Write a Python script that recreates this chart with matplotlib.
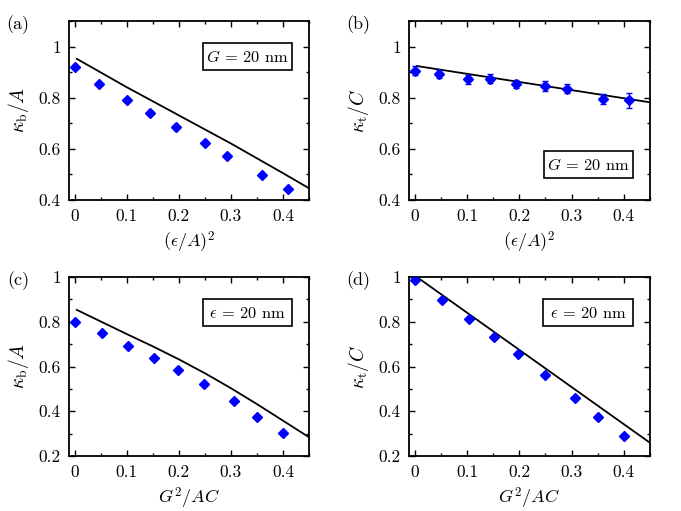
import matplotlib
matplotlib.use("Agg")
import matplotlib.pyplot as plt
from matplotlib.ticker import MultipleLocator, FuncFormatter
from matplotlib.patches import Rectangle

plt.rcParams['font.family'] = 'cmr10'
plt.rcParams['mathtext.fontset'] = 'cm'
plt.rcParams['axes.formatter.use_mathtext'] = True

# ---- data ----
x_eps = [0.0, 0.047, 0.101, 0.144, 0.194, 0.25, 0.292, 0.36, 0.41]
kb_eps = [0.919, 0.853, 0.791, 0.739, 0.684, 0.622, 0.574, 0.498, 0.442]
kt_eps = [0.906, 0.893, 0.872, 0.874, 0.854, 0.847, 0.836, 0.795, 0.790]
kt_eps_err = [0.017, 0.014, 0.017, 0.018, 0.017, 0.020, 0.018, 0.018, 0.029]

line_x_a = [0.004, 0.1, 0.2, 0.3, 0.4, 0.45]
line_y_a = [0.952, 0.841, 0.731, 0.621, 0.505, 0.446]
line_x_b = [0.004, 0.45]
line_y_b = [0.924, 0.782]

x_G = [0.0, 0.052, 0.103, 0.152, 0.198, 0.249, 0.306, 0.351, 0.401]
kb_G = [0.800, 0.748, 0.692, 0.638, 0.584, 0.522, 0.444, 0.376, 0.301]
kt_G = [0.985, 0.899, 0.811, 0.733, 0.656, 0.561, 0.459, 0.376, 0.289]

line_x_c = [0.004, 0.1, 0.15, 0.2, 0.25, 0.3, 0.35, 0.4, 0.45]
line_y_c = [0.853, 0.745, 0.690, 0.632, 0.570, 0.503, 0.432, 0.358, 0.284]
line_x_d = [0.004, 0.45]
line_y_d = [1.0, 0.259]

panel_labels = ['(a)', '(b)', '(c)', '(d)']
xlabels = [r'$(\epsilon/A)^2$', r'$(\epsilon/A)^2$', r'$G^2/AC$', r'$G^2/AC$']
ylabels = [r'$\kappa_{\rm b}/A$', r'$\kappa_{\rm t}/C$', r'$\kappa_{\rm b}/A$', r'$\kappa_{\rm t}/C$']
box_texts = [r'$G$ = 20 nm', r'$G$ = 20 nm', r'$\epsilon$ = 20 nm', r'$\epsilon$ = 20 nm']

W, H = 681, 511
fig = plt.figure(figsize=(W / 100, H / 100), dpi=100)

def add_ax(l, t, r, b):
    return fig.add_axes([l / W, 1 - b / H, (r - l) / W, (b - t) / H])

axes = [add_ax(69, 21, 309, 200), add_ax(409, 21, 650, 200),
        add_ax(69, 277, 309, 456), add_ax(409, 277, 650, 456)]

blue = '#0000ff'
fmt = FuncFormatter(lambda v, p: '%g' % round(v, 2))

for i, ax in enumerate(axes):
    ax.set_xlim(-0.011, 0.45)
    if i < 2:
        ax.set_ylim(0.4, 1.1)
    else:
        ax.set_ylim(0.2, 1.0)
    ax.xaxis.set_major_locator(MultipleLocator(0.1))
    ax.xaxis.set_minor_locator(MultipleLocator(0.05))
    ax.yaxis.set_major_locator(MultipleLocator(0.2))
    ax.yaxis.set_minor_locator(MultipleLocator(0.1))
    ax.xaxis.set_major_formatter(fmt)
    ax.yaxis.set_major_formatter(fmt)
    ax.tick_params(which='both', direction='in', top=True, right=True, labelsize=12.5, width=1.0, pad=6)
    ax.tick_params(which='major', length=4.5)
    ax.tick_params(which='minor', length=2.5)
    for s in ax.spines.values():
        s.set_linewidth(1.3)
    ax.set_xlabel(xlabels[i], fontsize=13, labelpad=4)
    ax.set_ylabel(ylabels[i], fontsize=14, labelpad=5)

axes[0].plot(line_x_a, line_y_a, color='black', lw=1.3, zorder=3)
axes[0].plot(x_eps, kb_eps, 'D', color=blue, ms=5, mec=blue, zorder=4)

axes[1].plot(line_x_b, line_y_b, color='black', lw=1.3, zorder=3)
axes[1].errorbar(x_eps, kt_eps, yerr=kt_eps_err, fmt='D', color=blue, ms=5,
                 ecolor=blue, elinewidth=1.0, capsize=2, capthick=1.0, zorder=4)

axes[2].plot(line_x_c, line_y_c, color='black', lw=1.3, zorder=3)
axes[2].plot(x_G, kb_G, 'D', color=blue, ms=5, mec=blue, zorder=4)

axes[3].plot(line_x_d, line_y_d, color='black', lw=1.3, zorder=3)
axes[3].plot(x_G, kt_G, 'D', color=blue, ms=5, mec=blue, zorder=4)

box_geom = [(0.557, 0.728, 0.371, 0.150), (0.560, 0.125, 0.369, 0.150),
            (0.557, 0.728, 0.371, 0.150), (0.557, 0.728, 0.371, 0.150)]
for i, ax in enumerate(axes):
    x0, y0, w, h = box_geom[i]
    ax.add_patch(Rectangle((x0, y0), w, h, transform=ax.transAxes, fc='white',
                           ec='black', lw=1.2, zorder=5))
    ax.text(x0 + w / 2, y0 + h / 2 - 0.005, box_texts[i], transform=ax.transAxes,
            ha='center', va='center', fontsize=11.8, zorder=6)

label_pos = [(18, 25), (358, 25), (18, 281), (358, 281)]
for i, (px, py) in enumerate(label_pos):
    fig.text(px / W, 1 - py / H, panel_labels[i], ha='center', va='center', fontsize=13)

fig.savefig('out.png', dpi=100)
